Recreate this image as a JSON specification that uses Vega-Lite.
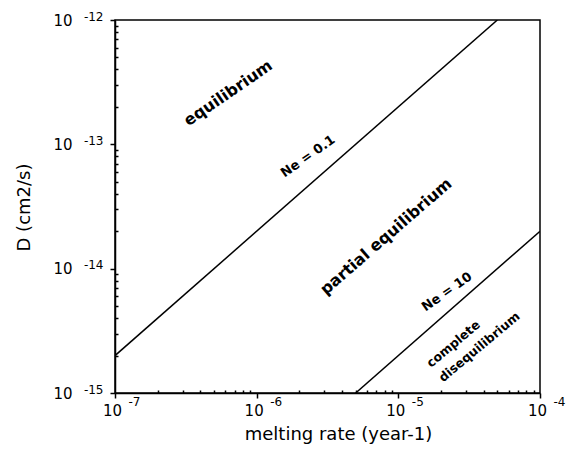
{
  "$schema": "https://vega.github.io/schema/vega-lite/v6.json",
  "width": 425,
  "height": 373,
  "autosize": "none",
  "padding": {"left": 115, "top": 20, "right": 33, "bottom": 62},
  "config": {
    "font": "DejaVu Sans",
    "view": {"stroke": "black", "strokeWidth": 1.5},
    "axis": {"grid": false, "labelColor": "black", "titleColor": "black", "domainColor": "black", "tickColor": "black", "labelFlush": false, "labelOverlap": false, "labelBound": false}
  },
  "resolve": {"axis": {"x": "independent", "y": "independent"}},
  "layer": [
    {
      "data": {"values": [
        {"boundary": "Ne = 0.1", "rate": 1e-7, "D": 2e-15},
        {"boundary": "Ne = 0.1", "rate": 5e-5, "D": 1e-12},
        {"boundary": "Ne = 10", "rate": 5e-6, "D": 1e-15},
        {"boundary": "Ne = 10", "rate": 1e-4, "D": 2e-14}
      ]},
      "mark": {"type": "line", "color": "black", "strokeWidth": 1.5, "clip": true},
      "encoding": {
        "x": {
          "field": "rate", "type": "quantitative",
          "scale": {"type": "log", "domain": [1e-7, 1e-4], "nice": false},
          "axis": {
            "orient": "bottom", "values": [1e-7, 1e-6, 1e-5, 1e-4], "labelExpr": "'10'",
            "labelFontSize": 15, "labelPadding": 5, "labelOffset": -3,
            "tickSize": 5, "tickWidth": 1.5, "domainWidth": 1.5,
            "title": "melting rate (year-1)", "titleFontSize": 18, "titleFontWeight": "normal",
            "titleX": 223, "titleY": 46, "titleAlign": "center", "titleBaseline": "alphabetic"
          }
        },
        "y": {
          "field": "D", "type": "quantitative",
          "scale": {"type": "log", "domain": [1e-15, 1e-12], "nice": false},
          "axis": {
            "orient": "left", "values": [1e-15, 1e-14, 1e-13, 1e-12], "labelExpr": "'10'",
            "labelFontSize": 15, "labelPadding": 38,
            "tickSize": 5, "tickWidth": 1.5, "domainWidth": 1.5,
            "title": "D (cm2/s)", "titleFontSize": 18, "titleFontWeight": "normal",
            "titleX": -91, "titleY": 187, "titleAngle": 270, "titleAlign": "center", "titleBaseline": "middle"
          }
        },
        "detail": {"field": "boundary"}
      }
    },
    {
      "data": {"values": [
        {"label": "equilibrium", "rate": 6.3e-7, "D": 2.58e-13}
      ]},
      "mark": {"type": "text", "angle": 325.5, "fontSize": 16, "fontWeight": "bold", "color": "black", "align": "center", "baseline": "middle"},
      "encoding": {
        "x": {
          "field": "rate", "type": "quantitative",
          "axis": {
            "orient": "bottom", "values": [1e-7, 1e-6, 1e-5, 1e-4],
            "labelExpr": "'' + round(log(datum.value) / LN10)",
            "labelFontSize": 12, "labelAlign": "left", "labelBaseline": "top", "labelOffset": 13, "labelPadding": 3,
            "ticks": false, "tickSize": 0, "domain": false, "title": null
          }
        },
        "y": {
          "field": "D", "type": "quantitative",
          "axis": {
            "orient": "left", "values": [1e-15, 1e-14, 1e-13, 1e-12],
            "labelExpr": "'' + round(log(datum.value) / LN10)",
            "labelFontSize": 12, "labelPadding": 12, "labelOffset": -4,
            "ticks": false, "tickSize": 0, "domain": false, "title": null
          }
        },
        "text": {"field": "label"}
      }
    },
    {
      "data": {"values": [
        {"label": "partial equilibrium", "rate": 8.2e-6, "D": 1.81e-14}
      ]},
      "mark": {"type": "text", "angle": 319, "fontSize": 16, "fontWeight": "bold", "color": "black", "align": "center", "baseline": "middle"},
      "encoding": {
        "x": {
          "field": "rate", "type": "quantitative",
          "axis": {
            "orient": "bottom",
            "values": [2e-7, 3e-7, 4e-7, 5e-7, 6e-7, 7e-7, 8e-7, 9e-7, 2e-6, 3e-6, 4e-6, 5e-6, 6e-6, 7e-6, 8e-6, 9e-6, 2e-5, 3e-5, 4e-5, 5e-5, 6e-5, 7e-5, 8e-5, 9e-5],
            "labels": false, "tickSize": -3, "tickWidth": 1.5, "domain": false, "title": null
          }
        },
        "y": {
          "field": "D", "type": "quantitative",
          "axis": {
            "orient": "left",
            "values": [2e-15, 3e-15, 4e-15, 5e-15, 6e-15, 7e-15, 8e-15, 9e-15, 2e-14, 3e-14, 4e-14, 5e-14, 6e-14, 7e-14, 8e-14, 9e-14, 2e-13, 3e-13, 4e-13, 5e-13, 6e-13, 7e-13, 8e-13, 9e-13],
            "labels": false, "tickSize": -3, "tickWidth": 1.5, "domain": false, "title": null
          }
        },
        "text": {"field": "label"}
      }
    },
    {
      "data": {"values": [
        {"label": "Ne = 0.1", "rate": 2.3e-6, "D": 8.0e-14},
        {"label": "Ne = 10", "rate": 2.2e-5, "D": 6.5e-15}
      ]},
      "mark": {"type": "text", "angle": 325, "fontSize": 13, "fontWeight": "bold", "color": "black", "align": "center", "baseline": "middle"},
      "encoding": {
        "x": {"field": "rate", "type": "quantitative", "axis": null},
        "y": {"field": "D", "type": "quantitative", "axis": null},
        "text": {"field": "label"}
      }
    },
    {
      "data": {"values": [
        {"label": "complete\ndisequilibrium", "rate": 1.63e-5, "D": 1.68e-15}
      ]},
      "mark": {"type": "text", "angle": 320, "fontSize": 12.5, "fontWeight": "bold", "color": "black", "align": "left", "baseline": "middle", "lineBreak": "\n", "lineHeight": 19},
      "encoding": {
        "x": {"field": "rate", "type": "quantitative", "axis": null},
        "y": {"field": "D", "type": "quantitative", "axis": null},
        "text": {"field": "label"}
      }
    }
  ]
}
